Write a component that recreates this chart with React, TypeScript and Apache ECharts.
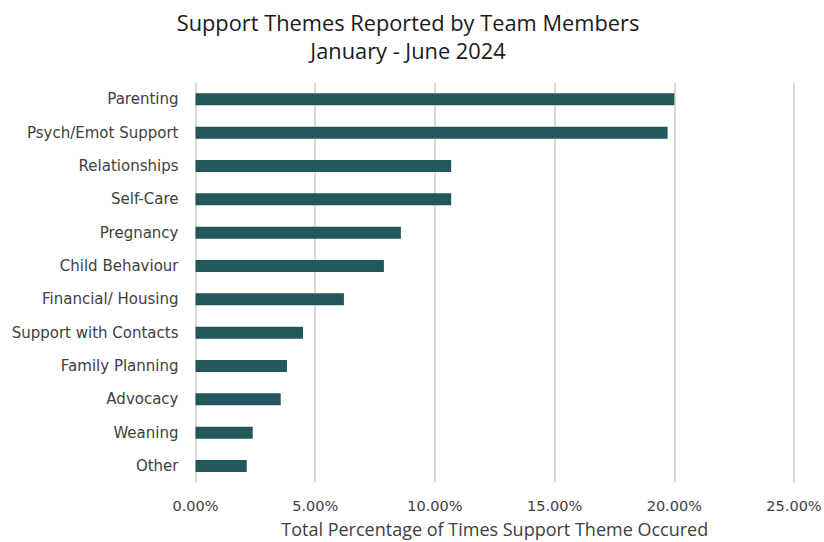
import React, { useEffect, useRef } from "react";
import * as echarts from "echarts";

const categories = [
  "Parenting",
  "Psych/Emot Support",
  "Relationships",
  "Self-Care",
  "Pregnancy",
  "Child Behaviour",
  "Financial/ Housing",
  "Support with Contacts",
  "Family Planning",
  "Advocacy",
  "Weaning",
  "Other",
];
const values = [20.0, 19.72, 10.68, 10.68, 8.58, 7.87, 6.2, 4.49, 3.82, 3.56, 2.39, 2.14];
const titleLines = ["Support Themes Reported by Team Members", "January - June 2024"];
const xAxisName = "Total Percentage of Times Support Theme Occured";

export default function App() {
  const ref = useRef<HTMLDivElement>(null);
  useEffect(() => {
    if (!ref.current) return;
    const chart = echarts.init(ref.current, null, { renderer: "svg" });
    chart.setOption({
      animation: false,
      backgroundColor: "#ffffff",
      title: {
        text: titleLines.join("\n"),
        left: 403,
        top: 3,
        textAlign: "center",
        textStyle: {
          fontFamily: "Open Sans",
          fontSize: 21.8,
          fontWeight: "normal",
          color: "#1a1a1a",
          lineHeight: 28,
        },
      },
      grid: {
        left: 195.5,
        right: 30,
        top: 82.7,
        bottom: 59.3,
        containLabel: false,
        outerBoundsMode: "none",
      },
      xAxis: {
        type: "value",
        min: 0,
        max: 25,
        interval: 5,
        name: xAxisName,
        nameLocation: "middle",
        nameGap: 37,
        nameTextStyle: { fontFamily: "Open Sans", fontSize: 18, color: "#404040" },
        axisLine: { show: false },
        axisTick: { show: false },
        axisLabel: {
          formatter: (v: number) => v.toFixed(2) + "%",
          fontFamily: "DejaVu Sans",
          fontSize: 14.5,
          color: "#404040",
          margin: 16,
        },
        splitLine: { show: true, lineStyle: { color: "#d9d9d9", width: 2 } },
      },
      yAxis: {
        type: "category",
        data: categories,
        inverse: true,
        axisLine: { show: false },
        axisTick: { show: false },
        axisLabel: {
          fontFamily: "DejaVu Sans",
          fontSize: 15,
          color: "#404040",
          margin: 17,
        },
      },
      series: [
        {
          type: "bar",
          data: values,
          barWidth: 12,
          itemStyle: { color: "#22585a" },
        },
      ],
    });
    return () => chart.dispose();
  }, []);
  return <div ref={ref} style={{ width: 824, height: 542, position: "absolute", left: 0, top: 0 }} />;
}
